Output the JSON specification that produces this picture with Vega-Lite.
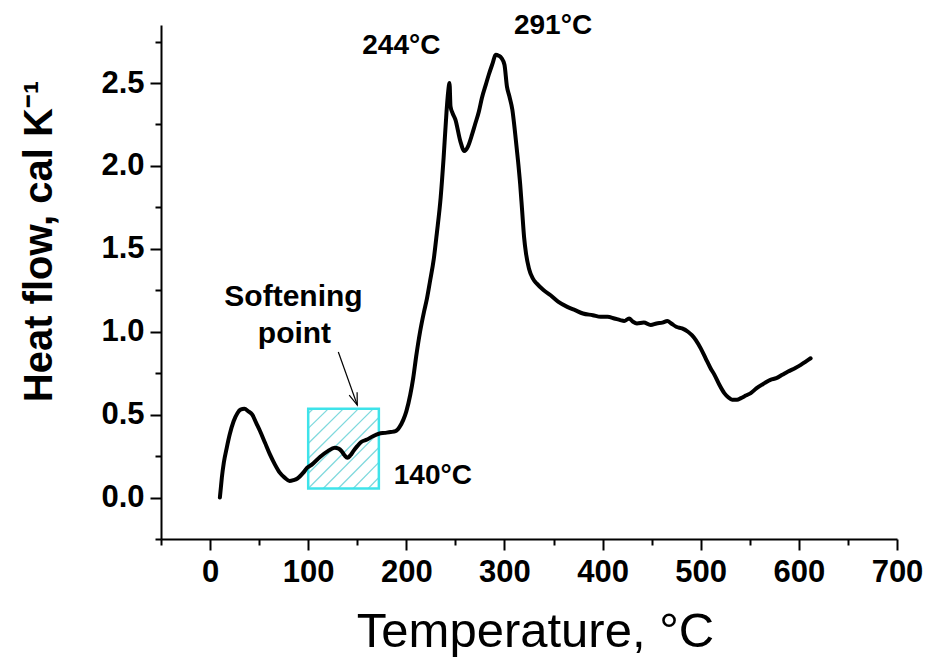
{
  "$schema": "https://vega.github.io/schema/vega-lite/v6.json",
  "width": 736,
  "height": 514,
  "autosize": "none",
  "padding": {"left": 161, "top": 25, "right": 33, "bottom": 118},
  "background": "white",
  "config": {
    "view": {"stroke": null},
    "axis": {
      "grid": false,
      "domainColor": "black",
      "domainWidth": 2,
      "tickColor": "black",
      "tickWidth": 2,
      "labelFont": "Liberation Sans",
      "labelFontWeight": "bold",
      "labelFontSize": 31,
      "labelColor": "black",
      "titleColor": "black"
    }
  },
  "encoding": {
    "x": {
      "field": "t",
      "type": "quantitative",
      "scale": {"domain": [-50, 700], "nice": false, "zero": false},
      "axis": {
        "title": "Temperature, °C",
        "titleFont": "Liberation Sans",
        "titleFontWeight": "normal",
        "titleFontSize": 49,
        "titleBaseline": "alphabetic",
        "titleY": 107,
        "titleX": 374,
        "values": [-50, 0, 50, 100, 150, 200, 250, 300, 350, 400, 450, 500, 550, 600, 650, 700],
        "tickSize": {"condition": {"test": "datum.value % 100 === 0", "value": 11}, "value": 6},
        "labelPadding": 7,
        "labelExpr": "datum.value % 100 === 0 && datum.value >= 0 ? datum.label : ''",
        "labelFlush": false,
        "labelOverlap": false
      }
    },
    "y": {
      "field": "hf",
      "type": "quantitative",
      "scale": {"domain": [-0.25, 2.85], "nice": false, "zero": false},
      "axis": {
        "title": "Heat flow, cal K⁻¹",
        "titleFont": "Liberation Sans",
        "titleFontWeight": "bold",
        "titleFontSize": 40,
        "titleAngle": -90,
        "titleAlign": "center",
        "titleBaseline": "alphabetic",
        "titleX": -110,
        "titleY": 216,
        "values": [-0.25, 0, 0.25, 0.5, 0.75, 1, 1.25, 1.5, 1.75, 2, 2.25, 2.5, 2.75],
        "tickSize": {"condition": {"test": "abs(datum.value * 2 - round(datum.value * 2)) < 0.001", "value": 11}, "value": 6},
        "labelPadding": 6,
        "format": ".1f",
        "labelExpr": "abs(datum.value * 2 - round(datum.value * 2)) < 0.001 && datum.value >= 0 ? datum.label : ''",
        "labelFlush": false,
        "labelOverlap": false
      }
    }
  },
  "layer": [
    {
      "description": "Hatched region around the softening point",
      "data": {"values": [
        {"t": 100, "hf": 0.507, "t2": 105.1, "hf2": 0.535},
        {"t": 100, "hf": 0.417, "t2": 120.4, "hf2": 0.535},
        {"t": 100, "hf": 0.326, "t2": 135.7, "hf2": 0.535},
        {"t": 100, "hf": 0.236, "t2": 151.0, "hf2": 0.535},
        {"t": 100, "hf": 0.145, "t2": 166.2, "hf2": 0.535},
        {"t": 100, "hf": 0.055, "t2": 172, "hf2": 0.483},
        {"t": 115.3, "hf": 0.055, "t2": 172, "hf2": 0.393},
        {"t": 130.6, "hf": 0.055, "t2": 172, "hf2": 0.302},
        {"t": 145.9, "hf": 0.055, "t2": 172, "hf2": 0.212},
        {"t": 161.1, "hf": 0.055, "t2": 172, "hf2": 0.121}
      ]},
      "mark": {"type": "rule", "color": "#7fd9dd", "strokeWidth": 1.3},
      "encoding": {"x2": {"field": "t2"}, "y2": {"field": "hf2"}}
    },
    {
      "data": {"values": [{"t": 100, "t2": 172, "hf": 0.055, "hf2": 0.535}]},
      "mark": {"type": "rect", "fill": null, "filled": false, "stroke": "#3ee3ea", "strokeWidth": 2.5},
      "encoding": {"x2": {"field": "t2"}, "y2": {"field": "hf2"}}
    },
    {
      "description": "DSC heat flow curve",
      "data": {"values": [
        {"t": 10, "hf": 0.0}, {"t": 11, "hf": 0.06}, {"t": 12, "hf": 0.12}, {"t": 14, "hf": 0.21},
        {"t": 17, "hf": 0.30}, {"t": 20, "hf": 0.38}, {"t": 24, "hf": 0.46}, {"t": 28, "hf": 0.51},
        {"t": 31, "hf": 0.53}, {"t": 35, "hf": 0.535}, {"t": 39, "hf": 0.52}, {"t": 43, "hf": 0.50},
        {"t": 47, "hf": 0.45}, {"t": 51, "hf": 0.40}, {"t": 56, "hf": 0.33}, {"t": 61, "hf": 0.26},
        {"t": 66, "hf": 0.20}, {"t": 71, "hf": 0.15}, {"t": 76, "hf": 0.12}, {"t": 81, "hf": 0.10},
        {"t": 85, "hf": 0.105}, {"t": 89, "hf": 0.115}, {"t": 95, "hf": 0.15}, {"t": 99, "hf": 0.18},
        {"t": 104, "hf": 0.20}, {"t": 112, "hf": 0.245}, {"t": 120, "hf": 0.28}, {"t": 127, "hf": 0.30},
        {"t": 131, "hf": 0.295}, {"t": 134, "hf": 0.28}, {"t": 137, "hf": 0.255}, {"t": 140, "hf": 0.24},
        {"t": 143, "hf": 0.255}, {"t": 146, "hf": 0.28}, {"t": 150, "hf": 0.31}, {"t": 154, "hf": 0.335},
        {"t": 160, "hf": 0.35}, {"t": 166, "hf": 0.37}, {"t": 172, "hf": 0.385}, {"t": 178, "hf": 0.39},
        {"t": 184, "hf": 0.395}, {"t": 189, "hf": 0.40}, {"t": 193, "hf": 0.425}, {"t": 197, "hf": 0.47},
        {"t": 200, "hf": 0.52}, {"t": 204, "hf": 0.62}, {"t": 207, "hf": 0.72}, {"t": 210, "hf": 0.85},
        {"t": 214, "hf": 1.00}, {"t": 218, "hf": 1.12}, {"t": 221, "hf": 1.20}, {"t": 224, "hf": 1.30},
        {"t": 228, "hf": 1.44}, {"t": 231, "hf": 1.59}, {"t": 235, "hf": 1.81}, {"t": 238, "hf": 2.05},
        {"t": 241, "hf": 2.33}, {"t": 242.5, "hf": 2.44}, {"t": 244, "hf": 2.50}, {"t": 245, "hf": 2.36},
        {"t": 247, "hf": 2.32}, {"t": 250, "hf": 2.28}, {"t": 255, "hf": 2.15}, {"t": 259, "hf": 2.09},
        {"t": 263, "hf": 2.12}, {"t": 267, "hf": 2.19}, {"t": 270, "hf": 2.25}, {"t": 274, "hf": 2.33},
        {"t": 277, "hf": 2.41}, {"t": 281, "hf": 2.49}, {"t": 284, "hf": 2.55}, {"t": 288, "hf": 2.62},
        {"t": 291, "hf": 2.67}, {"t": 294, "hf": 2.665}, {"t": 297, "hf": 2.65}, {"t": 300, "hf": 2.61},
        {"t": 302.5, "hf": 2.48}, {"t": 305, "hf": 2.42}, {"t": 308, "hf": 2.34}, {"t": 311, "hf": 2.19},
        {"t": 314, "hf": 2.02}, {"t": 316, "hf": 1.89}, {"t": 318, "hf": 1.73}, {"t": 320, "hf": 1.57},
        {"t": 322, "hf": 1.47}, {"t": 325, "hf": 1.38}, {"t": 329, "hf": 1.32}, {"t": 333, "hf": 1.29},
        {"t": 340, "hf": 1.25}, {"t": 347, "hf": 1.22}, {"t": 355, "hf": 1.18}, {"t": 364, "hf": 1.15},
        {"t": 372, "hf": 1.13}, {"t": 380, "hf": 1.11}, {"t": 390, "hf": 1.10}, {"t": 398, "hf": 1.09},
        {"t": 405, "hf": 1.09}, {"t": 412, "hf": 1.08}, {"t": 418, "hf": 1.07}, {"t": 422, "hf": 1.065},
        {"t": 427, "hf": 1.08}, {"t": 431, "hf": 1.06}, {"t": 435, "hf": 1.05}, {"t": 442, "hf": 1.055},
        {"t": 449, "hf": 1.04}, {"t": 455, "hf": 1.05}, {"t": 461, "hf": 1.055}, {"t": 466, "hf": 1.065},
        {"t": 470, "hf": 1.05}, {"t": 475, "hf": 1.03}, {"t": 481, "hf": 1.02}, {"t": 487, "hf": 1.00},
        {"t": 491, "hf": 0.98}, {"t": 495, "hf": 0.95}, {"t": 500, "hf": 0.90}, {"t": 505, "hf": 0.84},
        {"t": 510, "hf": 0.78}, {"t": 514, "hf": 0.74}, {"t": 519, "hf": 0.68}, {"t": 524, "hf": 0.63},
        {"t": 528, "hf": 0.605}, {"t": 532, "hf": 0.59}, {"t": 537, "hf": 0.59}, {"t": 541, "hf": 0.60},
        {"t": 546, "hf": 0.615}, {"t": 551, "hf": 0.63}, {"t": 557, "hf": 0.66}, {"t": 565, "hf": 0.69},
        {"t": 571, "hf": 0.71}, {"t": 577, "hf": 0.72}, {"t": 583, "hf": 0.74}, {"t": 589, "hf": 0.76},
        {"t": 596, "hf": 0.78}, {"t": 602, "hf": 0.80}, {"t": 607, "hf": 0.82}, {"t": 612, "hf": 0.84}
      ]},
      "mark": {"type": "line", "color": "black", "strokeWidth": 4, "interpolate": "monotone", "strokeJoin": "round", "strokeCap": "round"}
    },
    {
      "description": "Arrow pointing at the softening region",
      "data": {"values": [{"t": 130.7, "hf": 0.878, "t2": 150, "hf2": 0.558}]},
      "mark": {"type": "rule", "color": "black", "strokeWidth": 1.2},
      "encoding": {"x2": {"field": "t2"}, "y2": {"field": "hf2"}}
    },
    {
      "data": {"values": [{"t": 150, "hf": 0.558}]},
      "mark": {"type": "point", "shape": "M-0.35,-1L0,0L0.35,-1", "size": 576, "filled": false, "stroke": "black", "strokeWidth": 1.2, "angle": 340, "opacity": 1}
    },
    {
      "description": "Peak and softening temperatures",
      "data": {"values": [
        {"t": 194.9, "hf": 2.675, "label": "244°C"},
        {"t": 349.5, "hf": 2.795, "label": "291°C"},
        {"t": 227, "hf": 0.084, "label": "140°C"}
      ]},
      "mark": {"type": "text", "font": "Liberation Sans", "fontWeight": "bold", "fontSize": 28, "color": "black", "align": "center", "baseline": "alphabetic"},
      "encoding": {"text": {"field": "label"}}
    },
    {
      "data": {"values": [
        {"t": 85, "hf": 1.157, "label": "Softening"},
        {"t": 86, "hf": 0.934, "label": "point"}
      ]},
      "mark": {"type": "text", "font": "Liberation Sans", "fontWeight": "bold", "fontSize": 30, "color": "black", "align": "center", "baseline": "alphabetic"},
      "encoding": {"text": {"field": "label"}}
    }
  ]
}
